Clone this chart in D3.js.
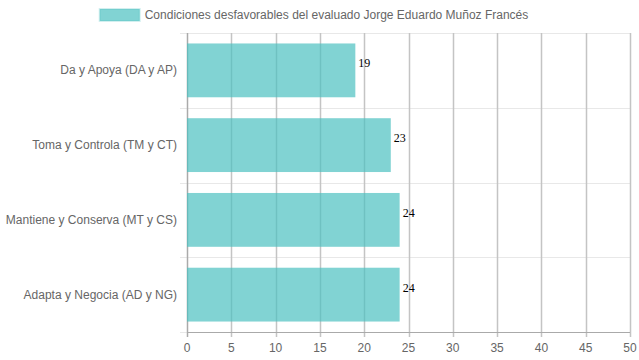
<!DOCTYPE html>
<html>
<head>
<meta charset="utf-8">
<script src="https://cdn.jsdelivr.net/npm/d3@7"></script>
<style>
  body { margin: 0; background: #fff; }
  text { font-family: "Liberation Sans", Arial, sans-serif; }
</style>
</head>
<body>
<svg id="chart" width="639" height="360"></svg>
<script>
const categories = ['Da y Apoya (DA y AP)', 'Toma y Controla (TM y CT)', 'Mantiene y Conserva (MT y CS)', 'Adapta y Negocia (AD y NG)'];
const values = [19, 23, 24, 24];
const xTicks = [0, 5, 10, 15, 20, 25, 30, 35, 40, 45, 50];
const seriesName = 'Condiciones desfavorables del evaluado Jorge Eduardo Muñoz Francés';

const barFill = 'rgba(75,192,192,0.7)';
const margin = {left: 187, right: 9, top: 33, bottom: 28};
const W = 639, H = 360;

const svg = d3.select('#chart');

const x = d3.scaleLinear().domain([0, 50]).range([margin.left, W - margin.right]);
const y = d3.scaleBand().domain(categories).range([margin.top, H - margin.bottom]);

// horizontal grid lines (category band edges)
const bandEdges = categories.map(c => y(c)).concat([H - margin.bottom]);
svg.append('g').selectAll('line').data(bandEdges).join('line')
    .attr('x1', margin.left - 7).attr('x2', W - margin.right)
    .attr('y1', d => Math.round(d) + 0.5).attr('y2', d => Math.round(d) + 0.5)
    .attr('stroke', '#e8e8e8');

// vertical grid lines
svg.append('g').selectAll('line').data(xTicks).join('line')
    .attr('x1', d => Math.round(x(d)) + 0.5).attr('x2', d => Math.round(x(d)) + 0.5)
    .attr('y1', margin.top).attr('y2', H - margin.bottom + 5)
    .attr('stroke', d => d === 0 ? '#aaa' : '#c4c4c4')
    .attr('stroke-width', 1.5);

// x axis line
svg.append('line')
    .attr('x1', margin.left).attr('x2', W - margin.right)
    .attr('y1', H - margin.bottom + 0.5).attr('y2', H - margin.bottom + 0.5)
    .attr('stroke', '#aaa');

// bars
const barH = y.bandwidth() * 0.72;
svg.append('g').selectAll('rect').data(values).join('rect')
    .attr('x', x(0))
    .attr('y', (d, i) => y(categories[i]) + (y.bandwidth() - barH) / 2)
    .attr('width', d => x(d) - x(0))
    .attr('height', barH)
    .attr('fill', barFill);

// value labels
svg.append('g').selectAll('text').data(values).join('text')
    .attr('x', d => x(d) + 3)
    .attr('y', (d, i) => y(categories[i]) + y.bandwidth() / 2 - 3)
    .style('font-family', '"Liberation Serif", "Times New Roman", serif')
    .attr('font-size', 12)
    .attr('fill', '#000')
    .text(d => d);

// category labels
svg.append('g').selectAll('text').data(categories).join('text')
    .attr('x', margin.left - 10)
    .attr('y', d => y(d) + y.bandwidth() / 2 + 4)
    .attr('text-anchor', 'end')
    .attr('font-size', 12)
    .attr('fill', '#666')
    .text(d => d);

// x tick labels
svg.append('g').selectAll('text').data(xTicks).join('text')
    .attr('x', d => x(d))
    .attr('y', H - margin.bottom + 20)
    .attr('text-anchor', 'middle')
    .attr('font-size', 12)
    .attr('fill', '#666')
    .text(d => d);

// legend
const legend = svg.append('g');
const legText = legend.append('text')
    .attr('y', 19)
    .attr('font-size', 12)
    .attr('fill', '#666')
    .text(seriesName);
const tw = legText.node().getComputedTextLength();
const total = 40 + 6 + tw;
const lx = (W - total) / 2 - 6;
legend.append('rect')
    .attr('x', lx + 1).attr('y', 9)
    .attr('width', 40).attr('height', 12)
    .attr('fill', barFill)
    .attr('stroke', 'rgba(75,192,192,0.25)')
    .attr('stroke-width', 2);
legText.attr('x', lx + 46);
</script>
</body>
</html>
